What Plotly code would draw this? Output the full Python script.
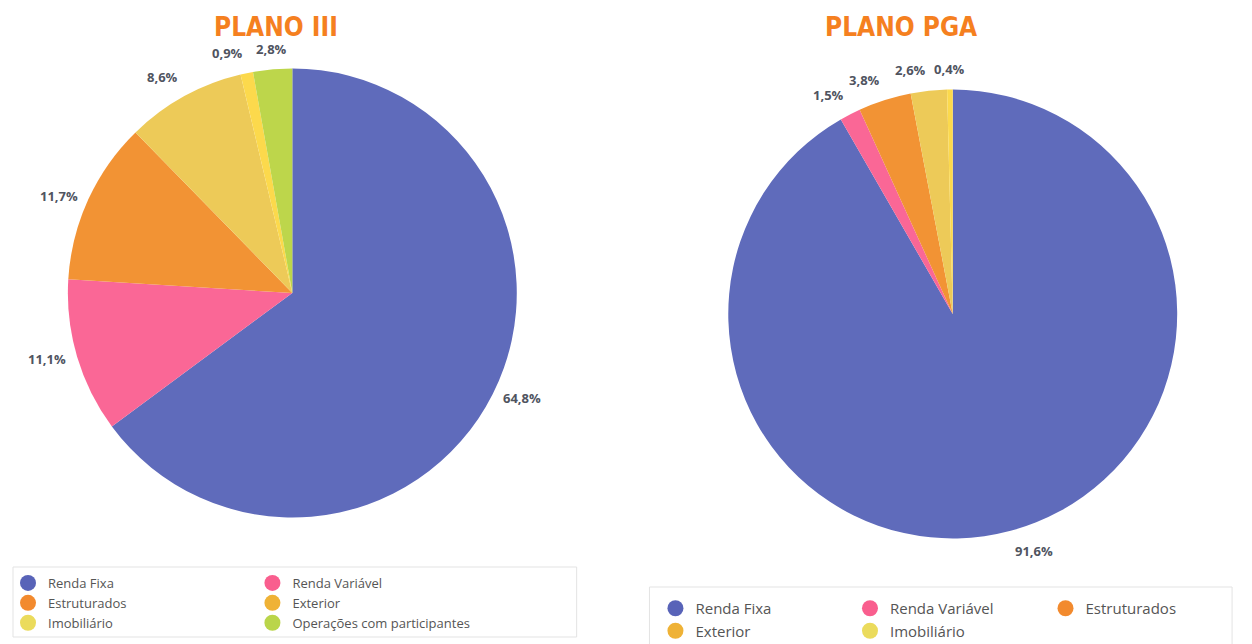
import math
import plotly.graph_objects as go

# dados das carteiras
categorias_iii = ['Renda Fixa', 'Renda Variável', 'Estruturados', 'Exterior',
                  'Imobiliário', 'Operações com participantes']
valores_iii = [64.8, 11.1, 11.7, 8.6, 0.9, 2.8]

categorias_pga = ['Renda Fixa', 'Renda Variável', 'Estruturados', 'Exterior', 'Imobiliário']
valores_pga = [91.6, 1.5, 3.8, 2.6, 0.4]

cores_fatias = {
    'Renda Fixa': '#5F6BBB',
    'Renda Variável': '#FA6796',
    'Estruturados': '#F29334',
    'Exterior': '#EDCA58',
    'Imobiliário': '#FCD94C',
    'Operações com participantes': '#BDD64B',
}
cores_legenda = {
    'Renda Fixa': '#5863B8',
    'Renda Variável': '#F95E8E',
    'Estruturados': '#F28A2E',
    'Exterior': '#EFB236',
    'Imobiliário': '#EBDB5C',
    'Operações com participantes': '#BAD54A',
}

W, H = 1252, 644
OFF = 8  # margem padrão do <body> na página
cinza_texto = '#50545F'


def px_x(v):
    return (v - OFF) / W


def px_y(v):
    return 1 - (v - OFF) / H


fig = go.Figure()

# (categorias, valores, centro x, centro y, raio) em pixels da tela
pizzas = [
    (categorias_iii, valores_iii, 290, 293, 225),
    (categorias_pga, valores_pga, 952, 314, 225),
]

for cats, vals, cx, cy, r in pizzas:
    fig.add_trace(go.Pie(
        labels=cats,
        values=vals,
        sort=False,
        direction='clockwise',
        rotation=0,
        marker=dict(colors=[cores_fatias[c] for c in cats], line=dict(width=0)),
        textinfo='none',
        domain=dict(x=[px_x(cx - r), px_x(cx + r)], y=[px_y(cy + r), px_y(cy - r)]),
        showlegend=False,
        hoverinfo='label+value',
    ))

    # rótulos percentuais fora da pizza, no ângulo médio de cada fatia
    total = sum(vals)
    acum = 0
    for v in vals:
        ang = 2 * math.pi * (acum + v / 2) / total
        acum += v
        dx, dy = math.sin(ang), -math.cos(ang)
        rr = r + 9
        xa = 'left' if dx > 0.25 else ('right' if dx < -0.1 else 'center')
        ya = 'middle' if abs(dy) < 0.5 else ('bottom' if dy < 0 else 'top')
        fig.add_annotation(
            text=f'{v:.1f}%'.replace('.', ','),
            x=px_x(cx + rr * dx), y=px_y(cy + rr * dy),
            xref='paper', yref='paper', showarrow=False,
            xanchor=xa, yanchor=ya,
            font=dict(family='Open Sans', size=13, color=cinza_texto, weight='bold'),
        )

# legendas (entradas em colunas)
colunas_iii = [['Renda Fixa', 'Estruturados', 'Imobiliário'],
               ['Renda Variável', 'Exterior', 'Operações com participantes']]
colunas_pga = [['Renda Fixa', 'Exterior'],
               ['Renda Variável', 'Imobiliário'],
               ['Estruturados']]

layout_legendas = {}
idx = 1
for colunas, xs, y_top, tam in [(colunas_iii, [5, 250], 568, 13),
                                (colunas_pga, [654, 849, 1045], 592, 15)]:
    for col, x0 in zip(colunas, xs):
        nome = 'legend' if idx == 1 else f'legend{idx}'
        for cat in col:
            fig.add_trace(go.Scatter(
                x=[None], y=[None], mode='markers', name=cat,
                marker=dict(size=16, color=cores_legenda[cat], symbol='circle'),
                legend=nome, showlegend=True, hoverinfo='skip',
            ))
        layout_legendas[nome] = dict(
            x=px_x(x0), y=px_y(y_top), xanchor='left', yanchor='top',
            orientation='v', bgcolor='rgba(0,0,0,0)', borderwidth=0,
            font=dict(family='Open Sans', size=tam, color='#555555'),
            tracegroupgap=0, itemclick=False, itemdoubleclick=False,
        )
        idx += 1

# caixas das legendas
fig.add_shape(type='rect', xref='paper', yref='paper',
              x0=px_x(10), x1=px_x(575), y0=px_y(637), y1=px_y(567),
              line=dict(color='#E3E3E3', width=1), fillcolor='rgba(0,0,0,0)')
fig.add_shape(type='rect', xref='paper', yref='paper',
              x0=px_x(648), x1=px_x(1232), y0=px_y(652), y1=px_y(587),
              line=dict(color='#E3E3E3', width=1), fillcolor='rgba(0,0,0,0)')

# títulos
titulo_fonte = dict(family='Liberation Sans Narrow, DejaVu Sans Condensed, Arial Narrow',
                    size=26, color='#F5801F', weight='bold')
fig.add_annotation(text='PLANO III', x=px_x(274), y=px_y(27), xref='paper', yref='paper',
                   showarrow=False, font=titulo_fonte, xanchor='center', yanchor='middle')
fig.add_annotation(text='PLANO PGA', x=px_x(900), y=px_y(27), xref='paper', yref='paper',
                   showarrow=False, font=titulo_fonte, xanchor='center', yanchor='middle')

fig.update_layout(
    width=W, height=H,
    margin=dict(l=0, r=0, t=0, b=0),
    paper_bgcolor='white',
    plot_bgcolor='white',
    xaxis=dict(visible=False),
    yaxis=dict(visible=False),
    **layout_legendas,
)

fig.write_html('out.html')
